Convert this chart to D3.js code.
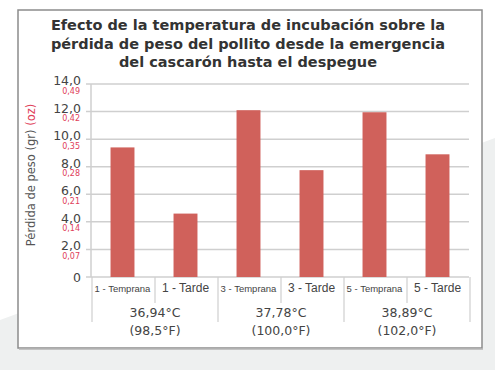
<!DOCTYPE html>
<html>
<head>
<meta charset="utf-8">
<script src="https://cdn.jsdelivr.net/npm/d3@7"></script>
<style>
  body { margin: 0; background: #fff; }
  svg { display: block; }
</style>
</head>
<body>
<svg id="chart" width="495" height="370"></svg>
<script>
var title_lines = ["Efecto de la temperatura de incubación sobre la",
                   "pérdida de peso del pollito desde la emergencia",
                   "del cascarón hasta el despegue"];
var categories = ["1 - Temprana", "1 - Tarde", "3 - Temprana", "3 - Tarde", "5 - Temprana", "5 - Tarde"];
var values = [9.4, 4.6, 12.1, 7.75, 11.95, 8.9];
var group_c = ["36,94°C", "37,78°C", "38,89°C"];
var group_f = ["(98,5°F)", "(100,0°F)", "(102,0°F)"];
var y_ticks = [0, 2, 4, 6, 8, 10, 12, 14];
var gr_labels = ["0", "2,0", "4,0", "6,0", "8,0", "10,0", "12,0", "14,0"];
var oz_labels = ["", "0,07", "0,14", "0,21", "0,28", "0,35", "0,42", "0,49"];

var bar_color = "#d0615b";
var grid_color = "#cfcfcf";
var red_text = "#e0405a";
var font = "'DejaVu Sans', Verdana, sans-serif";
var narrow = "'Liberation Sans', Arial, sans-serif";

var svg = d3.select("#chart");

// background shape and frame
svg.append("polygon")
  .attr("points", "0,320 495,138 495,370 0,370")
  .style("fill", "#eef0f0");
svg.append("rect")
  .attr("x", 18).attr("y", 10).attr("width", 464).attr("height", 338)
  .style("fill", "#fff").style("stroke", "#8c8c8c").style("stroke-width", 1.5);
svg.append("line")
  .attr("x1", 19).attr("x2", 483).attr("y1", 349).attr("y2", 349)
  .style("stroke", "#b5b5b5").style("stroke-width", 1.5);

// title
svg.selectAll(".title_line")
  .data(title_lines)
  .enter()
  .append("text")
    .attr("class", "title_line")
    .attr("x", 248)
    .attr("y", (d, i) => 30 + i * 18.5)
    .attr("text-anchor", "middle")
    .style("font-family", font)
    .style("font-weight", "bold")
    .style("font-size", "14.5px")
    .style("fill", "#333")
    .text(d => d);

var x = d3.scaleBand().domain(categories).range([91, 469]).paddingInner(0.62).paddingOuter(0.31);
var y = d3.scaleLinear().domain([0, 14]).range([277, 84]);

// gridlines
svg.selectAll(".grid")
  .data(y_ticks)
  .enter()
  .append("line")
    .attr("class", "grid")
    .attr("x1", 86).attr("x2", 469)
    .attr("y1", d => y(d)).attr("y2", d => y(d))
    .style("stroke", grid_color).style("stroke-width", 1.5);

svg.append("line")
  .attr("x1", 91).attr("x2", 91).attr("y1", y(14)).attr("y2", y(0))
  .style("stroke", grid_color).style("stroke-width", 1.5);

// y labels
svg.selectAll(".gr_label")
  .data(y_ticks)
  .enter()
  .append("text")
    .attr("class", "gr_label")
    .attr("x", 81)
    .attr("y", d => d == 0 ? y(d) + 5 : y(d) + 1)
    .attr("text-anchor", "end")
    .style("font-family", font)
    .style("font-size", "12.5px")
    .style("fill", "#444")
    .text((d, i) => gr_labels[i]);

svg.selectAll(".oz_label")
  .data(y_ticks)
  .enter()
  .append("text")
    .attr("class", "oz_label")
    .attr("x", 80)
    .attr("y", d => y(d) + 9.5)
    .attr("text-anchor", "end")
    .style("font-family", font)
    .style("font-size", "8px")
    .style("fill", red_text)
    .text((d, i) => oz_labels[i]);

// y axis title
var yt = svg.append("text")
  .attr("transform", "translate(35,175) rotate(-90)")
  .attr("text-anchor", "middle")
  .style("font-family", font)
  .style("font-size", "11.5px")
  .style("fill", "#555");
yt.append("tspan").text("Pérdida de peso (gr) ");
yt.append("tspan").style("fill", red_text).text("(oz)");

// bars
svg.selectAll(".bar")
  .data(values)
  .enter()
  .append("rect")
    .attr("class", "bar")
    .attr("x", (d, i) => x(categories[i]))
    .attr("width", x.bandwidth())
    .attr("y", d => y(d))
    .attr("height", d => y(0) - y(d))
    .style("fill", bar_color);

// category separators
var step = x.step();
var edges = d3.range(categories.length + 1);
svg.selectAll(".sep")
  .data(edges)
  .enter()
  .append("line")
    .attr("class", "sep")
    .attr("x1", d => 92 + d * step).attr("x2", d => 92 + d * step)
    .attr("y1", y(0))
    .attr("y2", d => d % 2 == 0 ? 322 : 303)
    .style("stroke", grid_color).style("stroke-width", 1.2);

svg.selectAll(".cat_label")
  .data(categories)
  .enter()
  .append("text")
    .attr("class", "cat_label")
    .attr("x", d => x(d) + x.bandwidth() / 2)
    .attr("y", 292)
    .attr("text-anchor", "middle")
    .style("font-family", narrow)
    .style("font-size", d => d.indexOf("Temprana") >= 0 ? "9.5px" : "12px")
    .style("fill", "#444")
    .text(d => d);

svg.selectAll(".group_c")
  .data(group_c)
  .enter()
  .append("text")
    .attr("class", "group_c")
    .attr("x", (d, i) => 92 + (2 * i + 1) * step)
    .attr("y", 317)
    .attr("text-anchor", "middle")
    .style("font-family", font)
    .style("font-size", "12.5px")
    .style("fill", "#444")
    .text(d => d);

svg.selectAll(".group_f")
  .data(group_f)
  .enter()
  .append("text")
    .attr("class", "group_f")
    .attr("x", (d, i) => 92 + (2 * i + 1) * step)
    .attr("y", 335)
    .attr("text-anchor", "middle")
    .style("font-family", font)
    .style("font-size", "12.5px")
    .style("fill", "#444")
    .text(d => d);
</script>
</body>
</html>
